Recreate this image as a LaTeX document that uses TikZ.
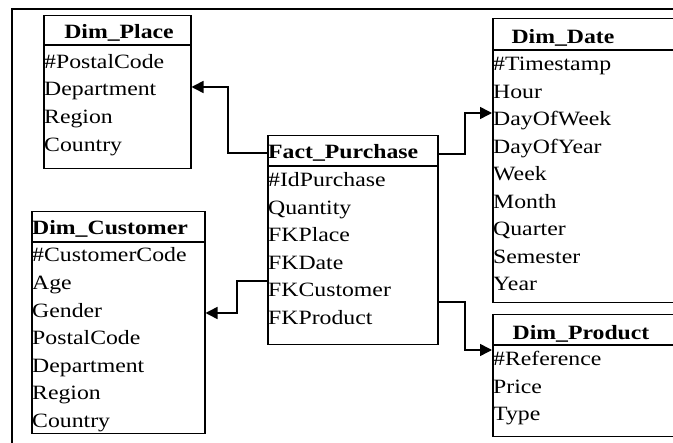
\documentclass[tikz,border=0pt]{standalone}
\usepackage{fontspec}
\setmainfont{Liberation Serif}
\usetikzlibrary{arrows.meta}
\newcommand\sx[1]{\scalebox{1.17}[1]{#1}}
\newcommand\sxb[1]{\scalebox{1.17}[1]{\bfseries #1}}
\tikzset{
  tbl/.style={draw, line width=1.5pt, anchor=north west, inner sep=0pt},
  row/.style={anchor=base west, inner sep=0pt},
  ttl/.style={anchor=base, inner sep=0pt},
  ttlw/.style={anchor=base west, inner sep=0pt},
  sep/.style={line width=1.5pt},
  conn/.style={line width=1.5pt, -{Triangle[length=12pt,width=12pt]}},
}
\begin{document}
\begin{tikzpicture}[x=1pt,y=-1pt,font=\fontsize{20.3}{24}\selectfont]
\useasboundingbox (0,0) rectangle (673,443);
\clip (0,0) rectangle (673,443);
\fill[white] (0,0) rectangle (673,443);
% outer frame
\draw[line width=1.6pt] (690,9) -- (12,9) -- (12,460);

% tables
\node[tbl, minimum width=147pt, minimum height=153pt] (place) at (43,15) {};
\node[tbl, minimum width=170pt, minimum height=209pt] (fact) at (267,135) {};
\node[tbl, minimum width=260pt, minimum height=284pt] (date) at (492,18) {};
\node[tbl, minimum width=260pt, minimum height=122pt] (prod) at (492,314) {};
\node[tbl, minimum width=173pt, minimum height=222pt] (cust) at (31,211) {};

% header separators
\draw[sep] (place.west |- 0,45) -- (place.east |- 0,45);
\draw[sep] (fact.west |- 0,166) -- (fact.east |- 0,166);
\draw[sep] (date.west |- 0,50) -- (date.east |- 0,50);
\draw[sep] (prod.west |- 0,345) -- (prod.east |- 0,345);
\draw[sep] (cust.west |- 0,242) -- (cust.east |- 0,242);

% titles
\node[ttl] (placeT) at (119,39) {\sxb{Dim\_Place}};
\node[ttlw] (factT) at (268,159) {\sxb{Fact\_Purchase}};
\node[ttl] (dateT) at (563,44) {\sxb{Dim\_Date}};
\node[ttl] (prodT) at (581,340) {\sxb{Dim\_Product}};
\node[ttlw] (custT) at (32,235) {\sxb{Dim\_Customer}};

% rows
\foreach \t [count=\i from 0] in {\#PostalCode,Department,Region,Country}
  \node[row] (placeR\i) at (44,68.4+27.6*\i) {\sx{\t}};
\foreach \t [count=\i from 0] in {\#IdPurchase,Quantity,FKPlace,FKDate,FKCustomer,FKProduct}
  \node[row] (factR\i) at (268,186.7+27.5*\i) {\sx{\t}};
\foreach \t [count=\i from 0] in {\#Timestamp,Hour,DayOfWeek,DayOfYear,Week,Month,Quarter,Semester,Year}
  \node[row] (dateR\i) at (493,71+27.5*\i) {\sx{\t}};
\foreach \t [count=\i from 0] in {\#Reference,Price,Type}
  \node[row] (prodR\i) at (493,366+27.2*\i) {\sx{\t}};
\foreach \t [count=\i from 0] in {\#CustomerCode,Age,Gender,PostalCode,Department,Region,Country}
  \node[row] (custR\i) at (32,262+27.6*\i) {\sx{\t}};

% connectors
\draw[conn] (fact.west |- 0,153) -| (228,87) -- (place.east |- 0,87);
\draw[conn] (fact.east |- 0,154) -| (465,113) -- (date.west |- 0,113);
\draw[conn] (fact.west |- 0,281) -| (237,313) -- (cust.east |- 0,313);
\draw[conn] (fact.east |- 0,302) -| (465,350) -- (prod.west |- 0,350);
\end{tikzpicture}
\end{document}
